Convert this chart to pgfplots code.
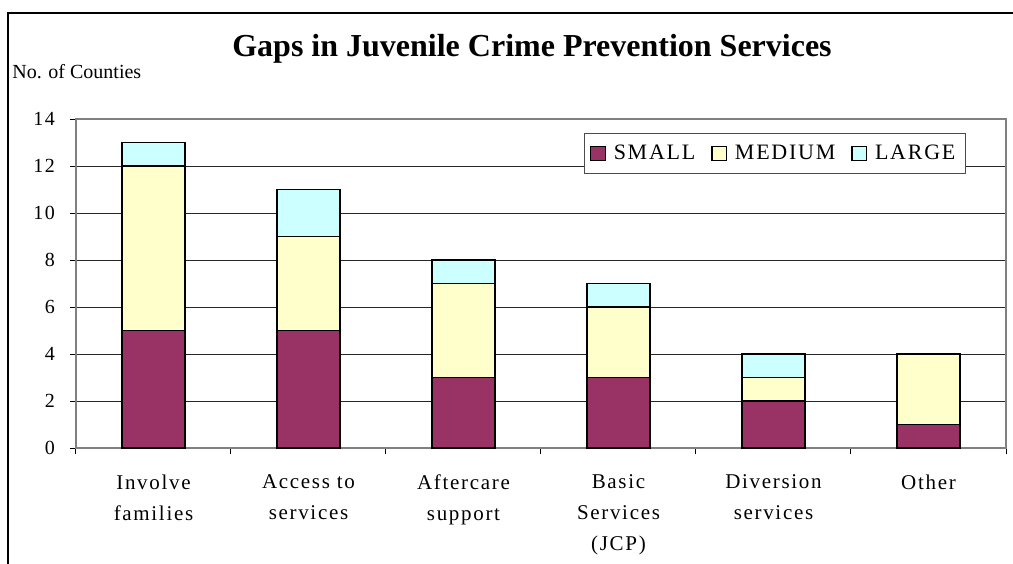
\documentclass[border=0pt]{standalone}
\usepackage{pgfplots}
\pgfplotsset{compat=1.18}
\usepackage{fontspec}
\setmainfont{Liberation Serif}[LetterSpace=8]
\newfontfamily\plainfont{Liberation Serif}
\definecolor{csmall}{HTML}{993366}
\definecolor{cmedium}{HTML}{FFFFCC}
\definecolor{clarge}{HTML}{CCFFFF}
\pgfplotstableread{
x small medium large
0 5 7 1
1 5 4 2
2 3 4 1
3 3 3 1
4 2 1 1
5 1 3 0
}\data
\begin{document}
\begin{tikzpicture}
\useasboundingbox (0,0) rectangle (506.5pt,281.5pt);
\draw[line width=1.1pt] (4pt,-20pt) -- (4pt,275pt) -- (540pt,275pt);
\node[inner sep=0, font=\plainfont\fontsize{16}{19}\selectfont\bfseries] at (266pt,257pt) {Gaps in Juvenile Crime Prevention Services};
\node[inner sep=0, anchor=west, font=\plainfont\fontsize{10}{12}\selectfont] at (6pt,245.5pt) {No. of Counties};
\begin{axis}[
  at={(38pt,57.5pt)}, anchor=south west,
  scale only axis, width=465pt, height=164.5pt,
  ybar stacked, bar width=0.41,
  xmin=-0.5, xmax=5.5, ymin=0, ymax=14,
  ytick={0,2,...,14},
  xtick={0,...,5},
  xticklabels={{Involve\\families},{Access to\\services},{Aftercare\\support},{Basic\\Services\\(JCP)},{Diversion\\services},{Other}},
  minor xtick={-0.5,0.5,...,5.5},
  major x tick style={draw=none},
  tick align=outside,
  major tick length=3pt, minor tick length=3pt,
  tick style={black, line width=0.5pt},
  xtick pos=bottom, ytick pos=left,
  ymajorgrids,
  major grid style={black!85, line width=0.5pt},
  axis line style={draw=black!50, line width=0.8pt},
  /pgf/number format/assume math mode=true,
  yticklabel style={font=\fontsize{10}{12}\selectfont, xshift=-4pt},
  xticklabel style={font=\fontsize{10.5}{15.5}\selectfont, align=center, yshift=-7pt},
  legend columns=3,
  legend style={at={(0.957,0.957)}, anchor=north east, draw=black!70, line width=0.6pt,
    font=\fontsize{11}{12}\selectfont, inner ysep=3.5pt, inner xsep=3pt,
    /tikz/every odd column/.append style={column sep=2pt},
    /tikz/every even column/.append style={column sep=6pt}},
  legend image code/.code={\draw[#1, draw=black, line width=0.6pt] (0pt,-3.6pt) rectangle (7.2pt,3.6pt);},
  every axis plot/.append style={draw=black, line width=0.9pt},
]
\addplot[fill=csmall] table[x=x,y=small]{\data};
\addplot[fill=cmedium] table[x=x,y=medium]{\data};
\addplot[fill=clarge] table[x=x,y=large]{\data};
\legend{SMALL,MEDIUM,LARGE}
\end{axis}
\end{tikzpicture}
\end{document}
